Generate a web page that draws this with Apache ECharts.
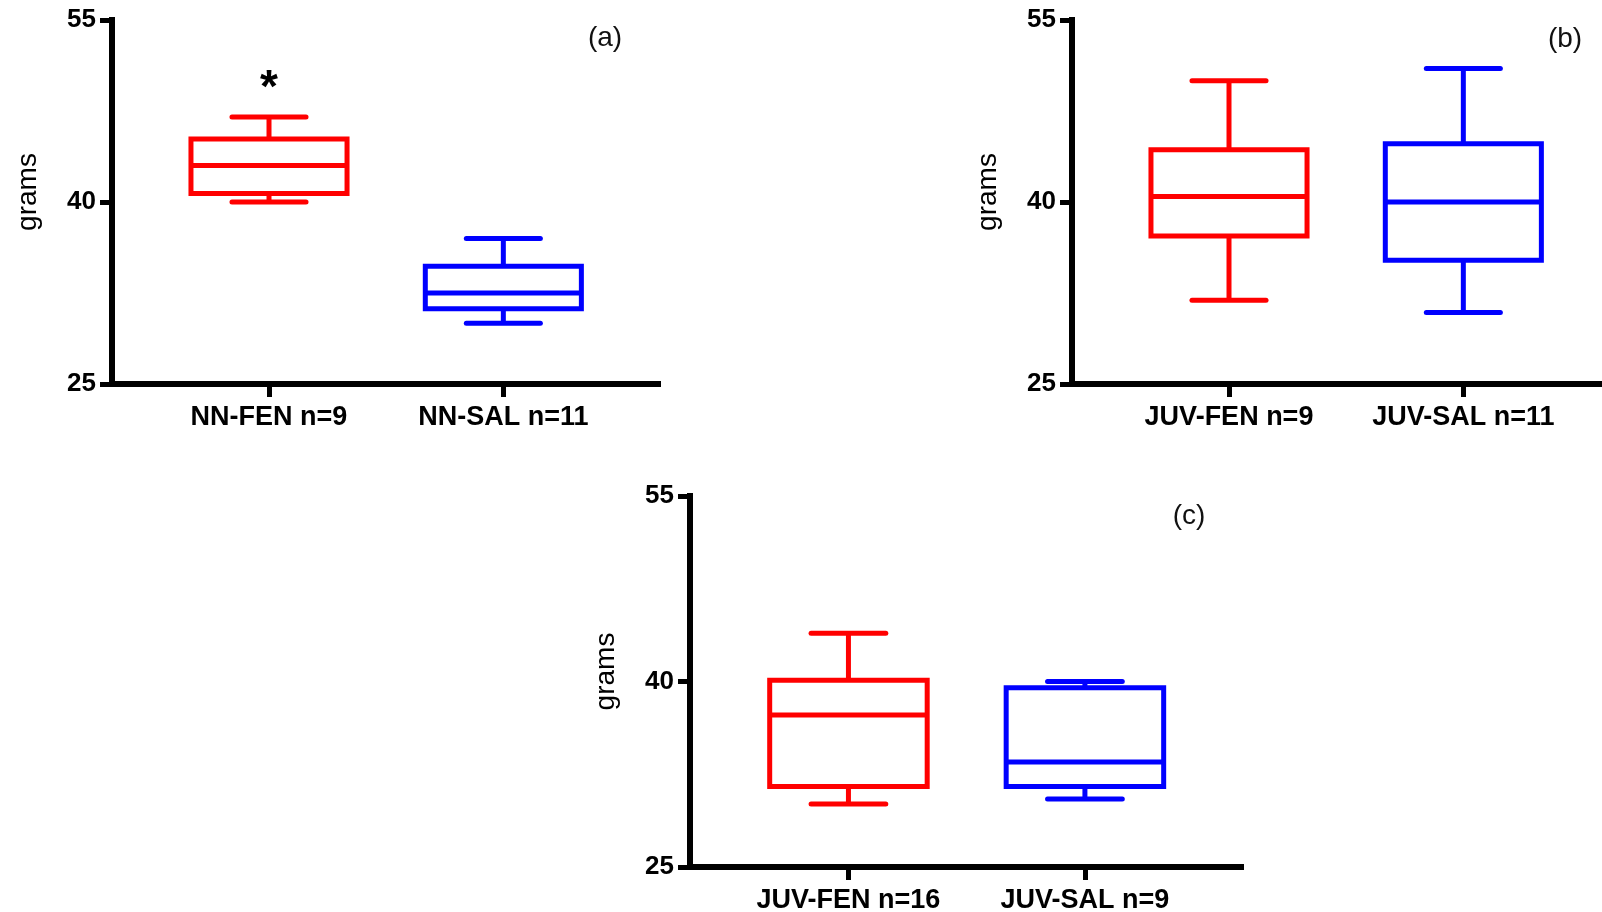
<!DOCTYPE html>
<html>
<head>
<meta charset="utf-8">
<title>Body weight by group</title>
<script src="https://cdn.jsdelivr.net/npm/echarts@6/dist/echarts.min.js"></script>
<style>
  html, body { margin: 0; padding: 0; background: #ffffff; }
  #chart { width: 1602px; height: 912px; }
</style>
</head>
<body>
<div id="chart"></div>
<script>
// Group labels per panel
const categoriesA = ['NN-FEN n=9', 'NN-SAL n=11'];
const categoriesB = ['JUV-FEN n=9', 'JUV-SAL n=11'];
const categoriesC = ['JUV-FEN n=16', 'JUV-SAL n=9'];

// Box statistics in grams: [min, Q1, median, Q3, max]
const statsA_FEN = [40.0, 40.7, 43.0, 45.2, 47.0];
const statsA_SAL = [30.0, 31.2, 32.5, 34.7, 37.0];
const statsB_FEN = [31.9, 37.2, 40.45, 44.3, 50.0];
const statsB_SAL = [30.9, 35.2, 40.0, 44.8, 51.0];
const statsC_FEN = [30.1, 31.5, 37.3, 40.1, 43.9];
const statsC_SAL = [30.5, 31.5, 33.5, 39.5, 40.0];

// Significance marks drawn above each group
const marksA = ['*', ''];
const marksB = ['', ''];
const marksC = ['', ''];

// Panel tags and value-axis ticks
const panelTags = ['(a)', '(b)', '(c)'];
const yTicks = [25, 40, 55];

const GROUP_COLORS = ['#ff0000', '#0000ff'];
const FONT = "'Liberation Sans', Arial, Helvetica, sans-serif";
const BOX_HALF = 0.333;   // half box width, in x-axis units
const CAP_HALF = 0.158;   // half whisker-cap width, in x-axis units
const LINE_W = 5;

function buildData(s1, s2) {
  return [[1].concat(s1, [0]), [2].concat(s2, [1])];
}

function renderBox(marks, params, api) {
  const x = api.value(0);
  const lo = api.coord([x, api.value(1)]);
  const q1 = api.coord([x, api.value(2)]);
  const med = api.coord([x, api.value(3)]);
  const q3 = api.coord([x, api.value(4)]);
  const hi = api.coord([x, api.value(5)]);
  const color = GROUP_COLORS[api.value(6)];
  const mark = marks[params.dataIndex] || '';
  const half = api.size([BOX_HALF, 0])[0];
  const cap = api.size([CAP_HALF, 0])[0];
  const cx = q1[0];
  const lineStyle = { stroke: color, lineWidth: LINE_W, fill: null };
  const capStyle = { stroke: color, lineWidth: LINE_W, lineCap: 'round' };
  const children = [
    { type: 'line', shape: { x1: cx, y1: q3[1], x2: cx, y2: hi[1] }, style: lineStyle },
    { type: 'line', shape: { x1: cx, y1: q1[1], x2: cx, y2: lo[1] }, style: lineStyle },
    { type: 'line', shape: { x1: cx - cap, y1: hi[1], x2: cx + cap, y2: hi[1] }, style: capStyle },
    { type: 'line', shape: { x1: cx - cap, y1: lo[1], x2: cx + cap, y2: lo[1] }, style: capStyle },
    { type: 'rect', shape: { x: cx - half, y: q3[1], width: 2 * half, height: q1[1] - q3[1] },
      style: { stroke: color, lineWidth: LINE_W, fill: null, lineJoin: 'miter' } },
    { type: 'line', shape: { x1: cx - half, y1: med[1], x2: cx + half, y2: med[1] }, style: lineStyle }
  ];
  if (mark) {
    children.push({
      type: 'text',
      style: {
        x: cx, y: hi[1] - 28, text: mark, fill: '#000',
        font: 'bold 46px ' + FONT, align: 'center', verticalAlign: 'middle'
      }
    });
  }
  return { type: 'group', children: children };
}

const grids = [
  { left: 112, top: 20, width: 546, height: 364 },
  { left: 1072, top: 20, width: 546, height: 364 },
  { left: 690, top: 496, width: 551, height: 371 }
];
const categorySets = [categoriesA, categoriesB, categoriesC];
const dataSets = [
  buildData(statsA_FEN, statsA_SAL),
  buildData(statsB_FEN, statsB_SAL),
  buildData(statsC_FEN, statsC_SAL)
];
const markSets = [marksA, marksB, marksC];

const axisLineStyle = { color: '#000', width: 6, cap: 'square' };

const option = {
  animation: false,
  backgroundColor: '#ffffff',
  grid: grids.map(g => Object.assign({ containLabel: false, outerBoundsMode: 'none' }, g)),
  xAxis: categorySets.map((cats, i) => ({
    type: 'value',
    gridIndex: i,
    min: 0.33,
    max: 2.66,
    splitLine: { show: false },
    axisLine: { show: true, onZero: false, lineStyle: axisLineStyle },
    axisTick: { show: true, inside: false, length: 13, customValues: [1, 2],
      lineStyle: { color: '#000', width: 5 } },
    axisLabel: {
      show: true, customValues: [1, 2], margin: 20,
      formatter: v => cats[Math.round(v) - 1] || '',
      color: '#000', fontFamily: FONT, fontWeight: 'bold', fontSize: 27
    }
  })),
  yAxis: categorySets.map((cats, i) => ({
    type: 'value',
    gridIndex: i,
    min: yTicks[0],
    max: yTicks[yTicks.length - 1],
    interval: yTicks[1] - yTicks[0],
    name: 'grams',
    nameLocation: 'middle',
    nameRotate: 90,
    nameGap: 70,
    nameTextStyle: { color: '#000', fontFamily: FONT, fontSize: 28, padding: [0, 0, 0, 20] },
    splitLine: { show: false },
    axisLine: { show: true, onZero: false, lineStyle: axisLineStyle },
    axisTick: { show: true, inside: false, length: 12, lineStyle: { color: '#000', width: 5 } },
    axisLabel: {
      margin: 16, color: '#000', fontFamily: FONT, fontWeight: 'bold', fontSize: 26
    }
  })),
  series: dataSets.map((data, i) => ({
    type: 'custom',
    xAxisIndex: i,
    yAxisIndex: i,
    clip: false,
    renderItem: (params, api) => renderBox(markSets[i], params, api),
    encode: { x: 0, y: [1, 2, 3, 4, 5] },
    data: data
  })),
  graphic: [
    { type: 'text', x: 605, y: 38, style: { text: panelTags[0], font: '28px ' + FONT, fill: '#111', align: 'center', verticalAlign: 'middle' } },
    { type: 'text', x: 1565, y: 39, style: { text: panelTags[1], font: '28px ' + FONT, fill: '#111', align: 'center', verticalAlign: 'middle' } },
    { type: 'text', x: 1189, y: 516, style: { text: panelTags[2], font: '28px ' + FONT, fill: '#111', align: 'center', verticalAlign: 'middle' } }
  ]
};

const chart = echarts.init(document.getElementById('chart'), null, { renderer: 'canvas' });
chart.setOption(option);
</script>
</body>
</html>
